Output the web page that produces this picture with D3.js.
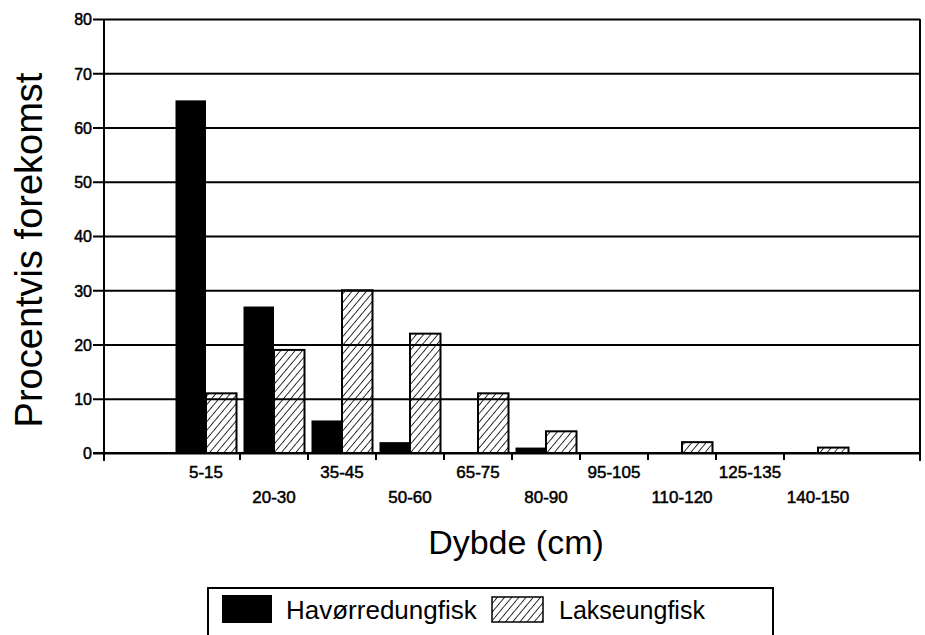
<!DOCTYPE html>
<html>
<head>
<meta charset="utf-8">
<script src="https://cdn.jsdelivr.net/npm/d3@7"></script>
<style>
  body { margin: 0; background: #fff; }
  text { font-family: "Liberation Sans", Arial, sans-serif; fill: #000; }
</style>
</head>
<body>
<div id="chart"></div>
<script>
// Depth classes and share (%) of each fish group found there
const categories = ["5-15", "20-30", "35-45", "50-60", "65-75", "80-90", "95-105", "110-120", "125-135", "140-150"]
const havorred = [65, 27, 6, 2, 0, 1, 0, 0, 0, 0]
const lakse = [11, 19, 30, 22, 11, 4, 0, 2, 0, 1]
const yTicks = [0, 10, 20, 30, 40, 50, 60, 70, 80]

const width = 925
const height = 635

const plotLeft = 104
const plotRight = 920
const plotTop = 19
const plotBottom = 453

const svg = d3.select("#chart")
  .append("svg")
    .attr("width", width)
    .attr("height", height)

// hatch pattern for Lakseungfisk ( "/" lines )
const defs = svg.append("defs")
defs.append("pattern")
    .attr("id", "hatch")
    .attr("patternUnits", "userSpaceOnUse")
    .attr("width", 5.5)
    .attr("height", 5.5)
    .attr("patternTransform", "rotate(40)")
  .append("line")
    .attr("x1", 0).attr("y1", 0)
    .attr("x2", 0).attr("y2", 5.5)
    .attr("stroke", "#000")
    .attr("stroke-width", 1.6)

const xScale = d3.scaleBand()
    .domain(categories)
    .range([plotLeft, plotRight])
    .paddingInner(0)
    .paddingOuter(1)

const yScale = d3.scaleLinear()
    .domain([0, 80])
    .range([plotBottom, plotTop])

// gridlines + left ticks
const yAxis = d3.axisLeft(yScale)
    .tickValues(yTicks)
    .tickSize(-(plotRight - plotLeft))
    .tickPadding(12)

const gy = svg.append("g")
    .attr("transform", "translate(" + plotLeft + ",0)")
    .call(yAxis)

gy.select(".domain").remove()
gy.selectAll(".tick line")
    .attr("x1", -11)
    .attr("stroke", "#000")
    .attr("stroke-width", 2)
gy.selectAll(".tick text")
    .attr("font-size", 16)
    .attr("x", -12)
    .attr("dy", "0.36em")
    .attr("stroke", "#000")
    .attr("stroke-width", 0.5)

// axis frame
svg.append("line")
    .attr("x1", plotLeft).attr("x2", plotLeft)
    .attr("y1", plotTop).attr("y2", plotBottom + 8)
    .attr("stroke", "#000").attr("stroke-width", 2)
svg.append("line")
    .attr("x1", plotRight).attr("x2", plotRight)
    .attr("y1", plotTop).attr("y2", plotBottom + 8)
    .attr("stroke", "#000").attr("stroke-width", 2)

// x ticks between categories
svg.selectAll(".xtick")
  .data(categories.slice(1))
  .enter()
  .append("line")
    .attr("class", "xtick")
    .attr("x1", d => xScale(d))
    .attr("x2", d => xScale(d))
    .attr("y1", plotBottom)
    .attr("y2", plotBottom + 7)
    .attr("stroke", "#000")
    .attr("stroke-width", 2)

const barW = 30.5
const inset = 3.5

// bars
svg.selectAll(".bar-h")
  .data(havorred)
  .enter()
  .append("rect")
    .attr("class", "bar-h")
    .attr("x", (d, i) => xScale(categories[i]) + inset)
    .attr("y", d => yScale(d))
    .attr("width", barW)
    .attr("height", d => plotBottom - yScale(d))
    .attr("fill", "#000")

svg.selectAll(".bar-l")
  .data(lakse)
  .enter()
  .append("rect")
    .attr("class", "bar-l")
    .attr("x", (d, i) => xScale(categories[i]) + inset + barW)
    .attr("y", d => yScale(d))
    .attr("width", barW)
    .attr("height", d => plotBottom - yScale(d))
    .attr("fill", "url(#hatch)")
    .attr("stroke", d => d > 0 ? "#000" : "none")
    .attr("stroke-width", 2)

// x axis line on top of bars
svg.append("line")
    .attr("x1", plotLeft - 11).attr("x2", plotRight)
    .attr("y1", plotBottom).attr("y2", plotBottom)
    .attr("stroke", "#000").attr("stroke-width", 2)

// category labels, staggered
svg.selectAll(".xlabel")
  .data(categories)
  .enter()
  .append("text")
    .attr("class", "xlabel")
    .text(d => d)
    .attr("text-anchor", "middle")
    .attr("font-size", 17)
    .attr("stroke", "#000")
    .attr("stroke-width", 0.5)
    .attr("x", d => xScale(d) + xScale.bandwidth() / 2)
    .attr("y", (d, i) => i % 2 === 0 ? 478 : 503)

// axis titles
svg.append("text")
    .text("Dybde (cm)")
    .attr("text-anchor", "middle")
    .attr("font-size", 34)
    .attr("x", 516)
    .attr("y", 554)

svg.append("text")
    .text("Procentvis forekomst")
    .attr("text-anchor", "middle")
    .attr("font-size", 38)
    .attr("transform", "translate(42,250)rotate(-90)")

// legend
const legend = svg.append("g")
legend.append("rect")
    .attr("x", 208).attr("y", 588)
    .attr("width", 565).attr("height", 60)
    .attr("fill", "#fff")
    .attr("stroke", "#000").attr("stroke-width", 2)
legend.append("rect")
    .attr("x", 222).attr("y", 595)
    .attr("width", 50).attr("height", 28)
    .attr("fill", "#000")
legend.append("text")
    .text("Havørredungfisk")
    .attr("font-size", 26)
    .attr("x", 286).attr("y", 619)
legend.append("rect")
    .attr("x", 492).attr("y", 597)
    .attr("width", 51).attr("height", 25)
    .attr("fill", "url(#hatch)")
    .attr("stroke", "#000").attr("stroke-width", 1.5)
legend.append("text")
    .text("Lakseungfisk")
    .attr("font-size", 25)
    .attr("x", 559).attr("y", 619)
</script>
</body>
</html>
